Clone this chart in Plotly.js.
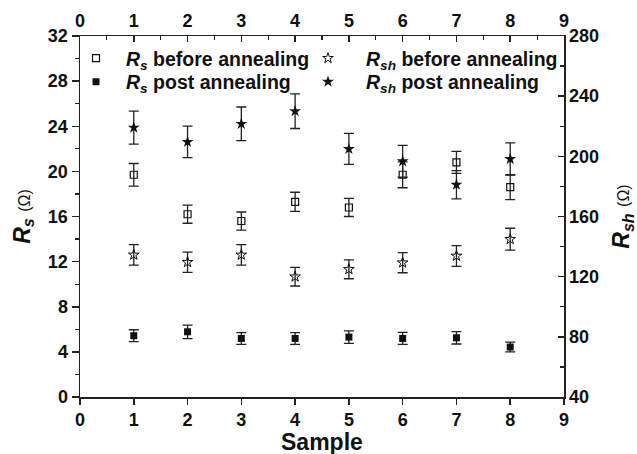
<!DOCTYPE html>
<html>
<head>
<meta charset="utf-8">
<script src="https://cdn.plot.ly/plotly-3.0.1.min.js"></script>
<style>html,body{margin:0;padding:0;background:#fff;}#chart{width:637px;height:454px;}</style>
</head>
<body>
<div id="chart"></div>
<script>
const samples = [1, 2, 3, 4, 5, 6, 7, 8];
const rsBefore = [19.7, 16.2, 15.6, 17.3, 16.8, 19.7, 20.8, 18.6];
const rsBeforeErr = [1.0, 0.8, 0.8, 0.85, 0.8, 1.15, 0.97, 1.1];
const rsPost = [5.43, 5.78, 5.19, 5.19, 5.31, 5.19, 5.25, 4.43];
const rsPostErr = [0.53, 0.6, 0.52, 0.52, 0.55, 0.53, 0.55, 0.43];
const rshBefore = [134.5, 129.6, 134.5, 120.0, 124.9, 129.3, 133.8, 144.9];
const rshBeforeErr = [6.8, 6.7, 6.8, 6.2, 6.3, 6.7, 6.9, 7.3];
const rshPost = [219.1, 209.6, 221.6, 230.0, 204.9, 196.7, 181.1, 198.2];
const rshPostErr = [11.0, 10.5, 11.2, 11.5, 10.3, 10.6, 9.4, 10.7];
const xTicks = [0, 1, 2, 3, 4, 5, 6, 7, 8, 9];
const leftTicks = [0, 4, 8, 12, 16, 20, 24, 28, 32];
const rightTicks = [40, 80, 120, 160, 200, 240, 280];
const xTitle = 'Sample';

const ink = '#111';
const FONT = 'Liberation Sans, Arial, sans-serif';
function err(arr) {
  return {type: 'data', array: arr, visible: true, color: '#222', thickness: 1.3, width: 5};
}

const traces = [
  {x: samples, y: rsBefore, error_y: err(rsBeforeErr), mode: 'markers', type: 'scatter',
   name: '<i>R</i><sub><i>s</i></sub> before annealing', legend: 'legend',
   marker: {symbol: 'square-open', size: 7, color: ink, line: {width: 1.2, color: ink}}},
  {x: samples, y: rsPost, error_y: err(rsPostErr), mode: 'markers', type: 'scatter',
   name: '<i>R</i><sub><i>s</i></sub> post annealing', legend: 'legend2',
   marker: {symbol: 'square', size: 7, color: ink}},
  {x: samples, y: rshBefore, error_y: err(rshBeforeErr), mode: 'markers', type: 'scatter',
   xaxis: 'x2', yaxis: 'y2',
   name: '<i>R</i><sub><i>sh</i></sub> before annealing', legend: 'legend3',
   marker: {symbol: 'star-open', size: 8, color: ink, line: {width: 1, color: ink}}},
  {x: samples, y: rshPost, error_y: err(rshPostErr), mode: 'markers', type: 'scatter',
   xaxis: 'x2', yaxis: 'y2',
   name: '<i>R</i><sub><i>sh</i></sub> post annealing', legend: 'legend4',
   marker: {symbol: 'star', size: 9, color: ink}}
];

const tickFont = {family: FONT, size: 18, color: ink, weight: 'bold'};
const legFont = {family: FONT, size: 19.5, color: ink, weight: 'bold'};
function leg(x, y, iw) {
  return {x: x, y: y, xanchor: 'left', yanchor: 'middle', orientation: 'v',
          bgcolor: 'rgba(0,0,0,0)', borderwidth: 0, font: legFont, itemwidth: iw};
}

const layout = {
  width: 637, height: 454,
  margin: {l: 80, r: 73, t: 36, b: 57},
  paper_bgcolor: '#fff', plot_bgcolor: '#fff',
  showlegend: true,
  font: {family: FONT, color: ink},
  xaxis: {
    range: [0, 9], tickvals: xTicks, ticktext: xTicks.map(String),
    ticks: 'outside', ticklen: 6, tickwidth: 1.5, tickcolor: '#222',
    showline: true, linewidth: 1.5, linecolor: '#222', showgrid: false, zeroline: false,
    tickfont: tickFont
  },
  xaxis2: {
    range: [0, 9], overlaying: 'x', side: 'top', anchor: 'y2',
    tickvals: xTicks, ticktext: xTicks.map(String),
    ticks: 'inside', ticklen: 6, tickwidth: 1.5, tickcolor: '#222',
    minor: {ticks: 'inside', dtick: 0.5, tick0: 0, ticklen: 4, tickwidth: 1.2, tickcolor: '#222'},
    showline: true, linewidth: 1.5, linecolor: '#222', showgrid: false, zeroline: false,
    tickfont: tickFont
  },
  yaxis: {
    range: [0, 32], tickvals: leftTicks, ticktext: leftTicks.map(String),
    ticks: 'outside', ticklen: 7, tickwidth: 1.5, tickcolor: '#222',
    minor: {ticks: 'outside', dtick: 2, tick0: 0, ticklen: 4, tickwidth: 1.2, tickcolor: '#222'},
    showline: true, linewidth: 1.5, linecolor: '#222', showgrid: false, zeroline: false,
    tickfont: tickFont,
    title: {text: '<b><i>R</i></b><sub><b><i>s</i></b></sub> <span style="font-size:16px">(Ω)</span>',
            font: {family: FONT, size: 23, color: ink}, standoff: 11}
  },
  yaxis2: {
    range: [40, 280], overlaying: 'y', side: 'right', anchor: 'x2',
    tickvals: rightTicks, ticktext: rightTicks.map(String),
    ticks: 'inside', ticklen: 6, tickwidth: 1.5, tickcolor: '#222',
    minor: {ticks: 'inside', dtick: 20, tick0: 40, ticklen: 4, tickwidth: 1.2, tickcolor: '#222'},
    showline: true, linewidth: 1.5, linecolor: '#222', showgrid: false, zeroline: false,
    tickfont: tickFont,
    title: {text: '<b><i>R</i></b><sub><b><i>sh</i></b></sub> <span style="font-size:16px">(Ω)</span>',
            font: {family: FONT, size: 23, color: ink}, standoff: 19}
  },
  annotations: [{
    text: xTitle, xref: 'paper', yref: 'paper', x: 0.5, y: -0.1247,
    xanchor: 'center', yanchor: 'middle', showarrow: false,
    font: {family: FONT, size: 23, color: ink, weight: 'bold'}
  }],
  legend: leg(-0.0289, 0.9376, 50),
  legend2: leg(-0.0289, 0.8725, 50),
  legend3: leg(0.4339, 0.9376, 66),
  legend4: leg(0.4339, 0.8725, 66)
};

Plotly.newPlot('chart', traces, layout, {displayModeBar: false, staticPlot: true});
</script>
</body>
</html>
